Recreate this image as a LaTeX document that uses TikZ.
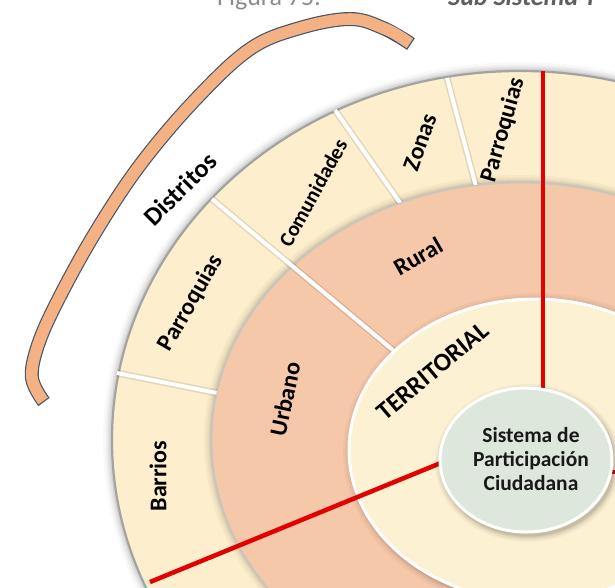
\documentclass[tikz,border=0pt]{standalone}
\usepackage{fontspec}
\setmainfont{Carlito}
\definecolor{cream}{HTML}{FDEFCD}
\definecolor{salmon}{HTML}{F6C8AA}
\definecolor{terr}{HTML}{FDF1D3}
\definecolor{sage}{HTML}{DDE7DB}
\definecolor{redl}{HTML}{E30000}
\definecolor{brorange}{HTML}{F4B183}
\definecolor{brline}{HTML}{4A5568}
\definecolor{rimgray}{HTML}{A3A3A3}
\definecolor{titlegray}{HTML}{8C8C8C}
\definecolor{titledark}{HTML}{5F5F5F}
\begin{document}
\begin{tikzpicture}[x=1pt,y=-1pt,
  lbl/.style={font=\bfseries\fontsize{24}{24}\selectfont, text=black, inner sep=0pt},
  smalllbl/.style={font=\bfseries\fontsize{21}{21}\selectfont, text=black, inner sep=0pt},
  spoke/.style={white, line width=4pt},
  spokeshade/.style={black, opacity=0.10, line width=7pt},
  redline/.style={redl, line width=4.5pt},
  bracketpath/.style={line cap=butt}
]
\useasboundingbox (0,0) rectangle (615,587);
\clip (0,0) rectangle (615,587);
\fill[white] (0,0) rectangle (615,587);

% ---------- outer ring (B0) ----------
\foreach \w/\o in {18/0.025,13/0.04,9/0.05,5/0.07}
  \draw[black,opacity=\o,line width=\w pt] (520,440) ellipse [x radius=408pt,y radius=369pt];
\fill[cream] (520,440) ellipse [x radius=408pt,y radius=369pt];
\draw[rimgray,line width=2.2pt] (520,440) ellipse [x radius=408pt,y radius=369pt];

% shadow of middle ring on outer ring
\foreach \w/\o in {16/0.03,11/0.04,7/0.05,4/0.06}
  \draw[black,opacity=\o,line width=\w pt] (520,440) ellipse [x radius=308pt,y radius=257pt];

% spokes of the outer ring
\coordinate (p1o) at (117,373); \coordinate (p1i) at (222,394);
\coordinate (p3o) at (335,110); \coordinate (p3i) at (408,214);
\coordinate (p4o) at (447,78);  \coordinate (p4i) at (478,194);
\foreach \a/\b in {p1o/p1i,p3o/p3i,p4o/p4i} {
  \draw[spokeshade] (\a) -- (\b);
  \draw[spoke] (\a) -- (\b);
}

% ---------- middle ring (B1) ----------
\fill[salmon] (520,440) ellipse [x radius=308pt,y radius=257pt];
\draw[black!22,line width=1.2pt] (520,440) ellipse [x radius=308pt,y radius=257pt];

% spoke between Parroquias/Comunidades and Urbano/Rural
\coordinate (p2o) at (212,199); \coordinate (p2i) at (400,356);
\draw[spokeshade] (p2o) -- (p2i);
\draw[spoke] (p2o) -- (p2i);

% ---------- territorial ring (B2) ----------
\foreach \w/\o in {16/0.03,11/0.04,7/0.06,4/0.07}
  \draw[black,opacity=\o,line width=\w pt] (537,452) ellipse [x radius=186pt,y radius=151pt];
\fill[terr] (535,450) ellipse [x radius=186pt,y radius=151pt];
\draw[white,line width=3pt] (535,450) ellipse [x radius=186pt,y radius=151pt];

% ---------- red dividing lines ----------
\coordinate (r1o) at (543,71);  \coordinate (r1i) at (543,398);
\coordinate (r2o) at (150,582); \coordinate (r2i) at (448,460);
\coordinate (r3i) at (605,472); \coordinate (r3o) at (630,472);
\draw[redline] (r1o) -- (r1i);
\draw[redline] (r2o) -- (r2i);
\draw[redline] (r3i) -- (r3o);

% ---------- centre ellipse ----------
\foreach \w/\o in {14/0.03,10/0.05,6/0.07,3/0.08}
  \draw[black,opacity=\o,line width=\w pt] (528,463) ellipse [x radius=86pt,y radius=72pt];
\fill[sage] (526,460) ellipse [x radius=86pt,y radius=72pt];
\draw[white,line width=3pt] (526,460) ellipse [x radius=86pt,y radius=72pt];
\node[font=\bfseries\fontsize{21.5}{24}\selectfont, text=black!90, align=center, inner sep=0pt]
  (spc) at (531,459) {Sistema de\\Participación\\Ciudadana};

% ---------- ring labels ----------
\node[lbl, rotate=90] (barrios) at (158,476) {Barrios};
\node[lbl, rotate=60] (parrL) at (191,303) {Parroquias};
\node[smalllbl, rotate=61] (comun) at (313,193) {Comunidades};
\node[lbl, rotate=70] (zonas) at (420,142) {Zonas};
\node[lbl, rotate=74] (parrR) at (503,130) {Parroquias};
\node[lbl, rotate=30] (rural) at (418,256) {Rural};
\node[lbl, rotate=78] (urbano) at (285,399) {Urbano};
\node[lbl, font=\bfseries\fontsize{25.5}{25.5}\selectfont, rotate=40] (terr) at (433,371) {TERRITORIAL};

% ---------- bracket "Distritos" ----------
\draw[brline,line width=14pt,bracketpath] plot[smooth,tension=0.6] coordinates
  {(411,44) (383,28) (350,19) (300,28) (250,49) (195,100) (140,165) (95,233) (58,300) (38,345) (32,378) (44,402)};
\draw[brorange,line width=11.6pt,bracketpath,shorten <=1.3pt,shorten >=1.3pt] plot[smooth,tension=0.6] coordinates
  {(411,44) (383,28) (350,19) (300,28) (250,49) (195,100) (140,165) (95,233) (58,300) (38,345) (32,378) (44,402)};
\node[lbl, font=\bfseries\fontsize{26}{26}\selectfont, rotate=45] (distritos) at (180,189) {Distritos};

% ---------- title (cut by the top edge) ----------
\node[anchor=base west, inner sep=0pt, text=titlegray, font=\fontsize{26}{26}\selectfont] (fig) at (217,5) {Figura 75:};
\node[anchor=base west, inner sep=0pt, text=titledark, font=\bfseries\itshape\fontsize{26}{26}\selectfont] (sub) at (448,5) {Sub Sistema T};
\end{tikzpicture}
\end{document}
